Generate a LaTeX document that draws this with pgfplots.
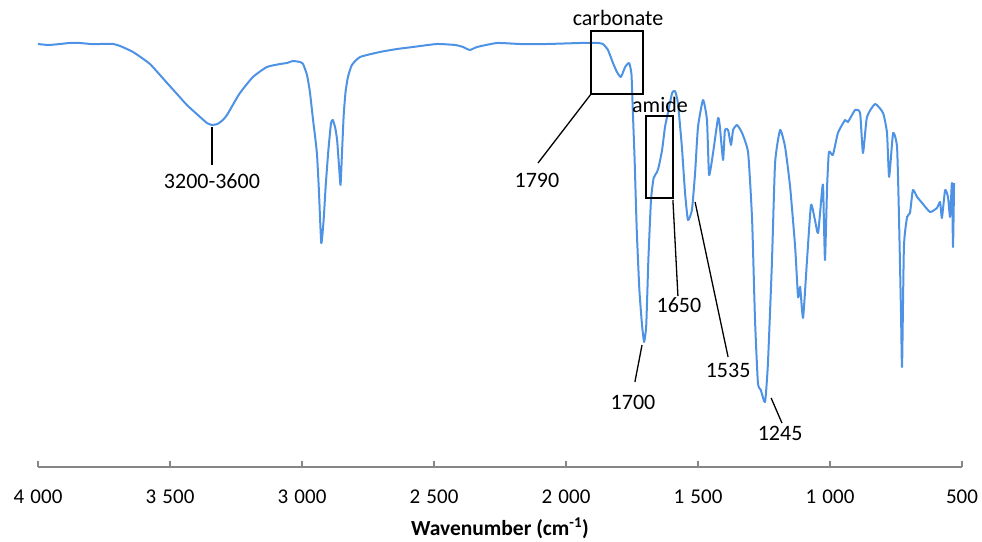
\documentclass[border=0pt]{standalone}
\usepackage{pgfplots}
\pgfplotsset{compat=1.18}
\usepackage{fontspec}
\setmainfont{Carlito}
\definecolor{specblue}{RGB}{77,146,228}
\definecolor{axisgray}{RGB}{134,134,134}
\newcommand{\annfont}{\fontsize{22bp}{26bp}\selectfont}
\begin{document}
\begin{tikzpicture}
\path[use as bounding box] (0,0) rectangle (982bp,-542bp);
\begin{axis}[
  at={(38bp,-467bp)}, anchor=south west,
  scale only axis, width=924bp, height=467bp,
  xmin=500, xmax=4000, x dir=reverse,
  ymin=-467, ymax=0,
  axis x line=bottom, axis y line=none,
  axis line style={draw=axisgray, line width=1.2bp, -},
  xtick={500,1000,...,4000},
  major tick style={draw=axisgray, line width=1.2bp},
  major tick length=6bp,
  tick align=inside,
  /pgf/number format/assume math mode=true,
  /pgf/number format/1000 sep={\hspace{0.3em}},
  xticklabel style={font=\fontsize{21bp}{25bp}\selectfont, inner sep=0pt, anchor=north, yshift=-23bp},
  xlabel={\textbf{Wavenumber (cm\textsuperscript{-1})}},
  xlabel style={font=\fontsize{21.5bp}{25bp}\selectfont, at={(axis description cs:0.5,0)}, anchor=center, yshift=-61bp},
  clip=false,
]
\addplot[specblue, line width=2bp, line join=round, smooth, tension=0.3] coordinates {
(4000,-44) (3960,-45) (3917,-44) (3880,-43) (3841,-43) (3800,-44) (3765,-44) (3716,-44) (3689,-46) (3640,-52)
(3576,-64) (3511,-83) (3470,-95) (3436,-105) (3386,-117) (3360,-123) (3341,-125) (3320,-124) (3300,-120) (3284,-115)
(3260,-104) (3235,-93) (3186,-77) (3133,-67) (3083,-64) (3057,-63) (3034,-61) (3008,-62)
(2996,-64) (2981,-75) (2970,-92) (2958,-120) (2951,-135) (2943,-155) (2936,-190)
(2927,-243) (2918,-220) (2910,-185) (2900,-150) (2890,-123) (2883,-120) (2874,-128) (2867,-140)
(2860,-165) (2854,-185) (2848,-150) (2842,-115) (2835,-92) (2826,-77) (2811,-65) (2780,-57)
(2705,-52) (2640,-49) (2580,-47) (2489,-44) (2420,-45) (2390,-47) (2364,-50) (2337,-47) (2261,-43)
(2174,-44) (2072,-44) (1947,-43) (1880,-43) (1860,-44) (1841,-50) (1822,-63) (1807,-72)
(1792,-77) (1776,-67) (1761,-63) (1752,-74) (1747,-110) (1740,-160) (1732,-230) (1722,-290)
(1712,-325) (1704,-342) (1696,-325) (1688,-260) (1678,-200) (1668,-178) (1655,-172) (1648,-166)
(1636,-150) (1625,-127) (1614,-113) (1598,-93) (1587,-91) (1576,-103) (1561,-147)
(1549,-193) (1538,-220) (1523,-210) (1511,-173) (1500,-127) (1481,-100) (1466,-120)
(1458,-175) (1443,-153) (1424,-118) (1417,-127) (1405,-160) (1398,-130) (1386,-130)
(1375,-145) (1367,-130) (1352,-125) (1333,-133) (1310,-153) (1295,-220) (1284,-320)
(1273,-383) (1262,-390) (1246,-402) (1235,-363) (1220,-263) (1208,-163) (1189,-130)
(1170,-147) (1151,-187) (1132,-247) (1121,-297) (1113,-287) (1102,-318) (1087,-260)
(1072,-205) (1057,-220) (1045,-233) (1030,-190) (1026,-187) (1019,-260) (1011,-187)
(1004,-152) (989,-155) (970,-133) (943,-120) (932,-122) (905,-110) (886,-113)
(875,-153) (860,-117) (829,-104) (799,-113) (784,-133) (776,-177) (761,-133)
(746,-147) (739,-213) (731,-313) (727,-367) (720,-247) (708,-217) (697,-213)
(686,-190) (670,-197) (651,-203) (621,-212) (595,-208) (583,-202) (576,-218)
(564,-190) (553,-197) (545,-217) (538,-183) (534,-247) (530,-183)
};
% annotations
\begin{scope}[black, line width=1.3bp]
\draw (axis cs:3341,-127) -- (axis cs:3341,-165);
\draw (axis cs:1905,-31) rectangle (axis cs:1708,-94);
\draw (axis cs:1905,-94) -- (axis cs:2106,-163);
\draw (axis cs:1697,-116) rectangle (axis cs:1595,-198);
\draw (axis cs:1595,-200) -- (axis cs:1576,-296);
\draw (axis cs:1712,-345) -- (axis cs:1739,-382);
\draw (axis cs:1511,-202) -- (axis cs:1386,-357);
\draw (axis cs:1223,-398) -- (axis cs:1182,-423);
\end{scope}
\node[font=\annfont, inner sep=0pt] at (axis cs:3341,-181) {3200-3600};
\node[font=\annfont, inner sep=0pt] at (axis cs:1803,-18) {carbonate};
\node[font=\annfont, inner sep=0pt] at (axis cs:2110,-180) {1790};
\node[font=\annfont, inner sep=0pt] at (axis cs:1644,-105) {amide};
\node[font=\annfont, inner sep=0pt] at (axis cs:1572,-305) {1650};
\node[font=\annfont, inner sep=0pt] at (axis cs:1746,-402) {1700};
\node[font=\annfont, inner sep=0pt] at (axis cs:1386,-370) {1535};
\node[font=\annfont, inner sep=0pt] at (axis cs:1189,-433) {1245};
\end{axis}
\end{tikzpicture}
\end{document}
